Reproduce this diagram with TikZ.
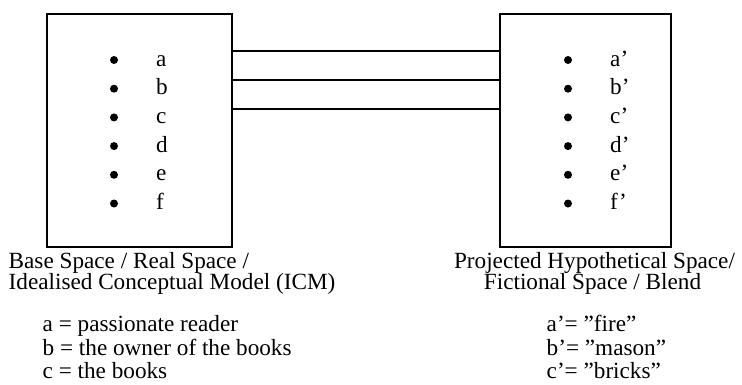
\documentclass[tikz,border=0pt]{standalone}
\usepackage{fontspec}
\setmainfont{Liberation Serif}
\begin{document}
\begin{tikzpicture}[x=1pt,y=-1pt,
  box/.style={draw,line width=1.8pt,inner sep=0pt,anchor=north west},
  dot/.style={circle,fill,inner sep=0pt,minimum size=8pt},
  txt/.style={inner sep=0pt,font=\fontsize{23.2}{23.2}\selectfont},
  lbl/.style={txt,anchor=base west},
  link/.style={line width=1.8pt}]
\useasboundingbox (0,0) rectangle (742,384);
% boxes
\node[box,minimum width=185pt,minimum height=233pt] (L) at (46,13) {};
\node[box,minimum width=171pt,minimum height=233pt] (R) at (499,13) {};
% connectors
\path (L.north east) ++(0,38) coordinate (l1) ++(0,29) coordinate (l2) ++(0,28.7) coordinate (l3);
\path (R.north west) ++(0,38) coordinate (r1) ++(0,29) coordinate (r2) ++(0,28.7) coordinate (r3);
\draw[link] (l1) -- (r1);
\draw[link] (l2) -- (r2);
\draw[link] (l3) -- (r3);
% left items
\foreach \n/\t [count=\i from 0] in {la/a,lb/b,lc/c,ld/d,le/e,lf/f}{
  \node[dot] (\n) at (114,{60+28.7*\i}) {};
  \node[lbl] (\n t) at (156,{66+28.7*\i}) {\t};
}
% right items
\foreach \n/\t [count=\i from 0] in {ra/a’,rb/b’,rc/c’,rd/d’,re/e’,rf/f’}{
  \node[dot] (\n) at (568,{60+28.7*\i}) {};
  \node[lbl] (\n t) at (610,{66+28.7*\i}) {\t};
}
% captions
\node[lbl] (lt1) at (8.5,268.5) {Base Space / Real Space /};
\node[lbl] (lt2) at (8.5,289.5) {Idealised Conceptual Model (ICM)};
\node[lbl] (lk1) at (42.5,331) {a = passionate reader};
\node[lbl] (lk2) at (42.5,355) {b = the owner of the books};
\node[lbl] (lk3) at (42.5,378.5) {c = the books};
\node[txt,anchor=base] (rt1) at (594.5,268.5) {Projected Hypothetical Space/};
\node[txt,anchor=base] (rt2) at (592.5,289.5) {Fictional Space / Blend};
\node[lbl] (rk1) at (546.5,331) {a’= ”fire”};
\node[lbl] (rk2) at (546.5,355) {b’= ”mason”};
\node[lbl] (rk3) at (546.5,378.5) {c’= ”bricks”};
\end{tikzpicture}
\end{document}
